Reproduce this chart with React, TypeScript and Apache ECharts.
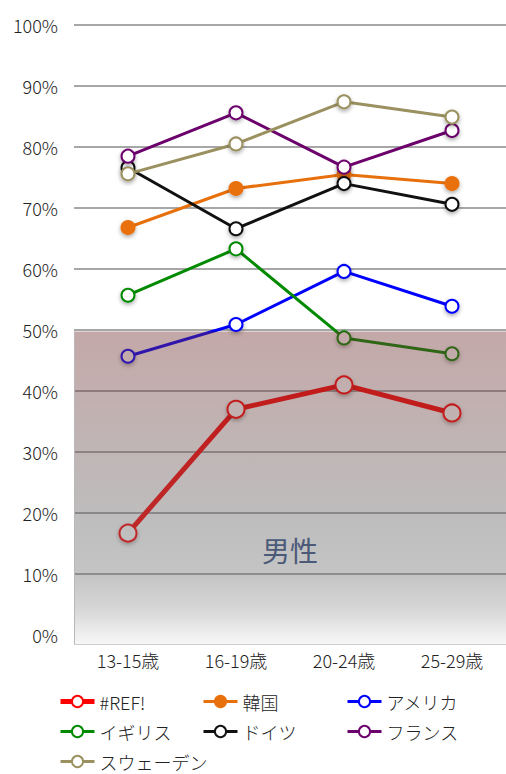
import React, { useEffect, useRef } from 'react';
import * as echarts from 'echarts';

const categories = ['13-15歳', '16-19歳', '20-24歳', '25-29歳'];
const refValues = [16.7, 37.0, 41.0, 36.4];
const koreaValues = [66.8, 73.2, 75.5, 74.0];
const usaValues = [45.7, 50.9, 59.6, 53.9];
const ukValues = [55.7, 63.3, 48.7, 46.1];
const germanyValues = [76.6, 66.6, 74.0, 70.6];
const franceValues = [78.5, 85.6, 76.7, 82.7];
const swedenValues = [75.6, 80.5, 87.4, 84.9];

const seriesNames = ['#REF!', '韓国', 'アメリカ', 'イギリス', 'ドイツ', 'フランス', 'スウェーデン'];
const seriesColors = ['#ff0000', '#e8700c', '#0000ff', '#008a00', '#111111', '#6c006c', '#9a9060'];
const shadeLimit = 50;
const shadeLabel = '男性';
const shadeLabelValue = 14;

const FONT = '"Noto Sans CJK JP", "Noto Sans", sans-serif';

export default function App() {
  const ref = useRef<HTMLDivElement>(null);
  useEffect(() => {
    if (!ref.current) return;
    const chart = echarts.init(ref.current, null, { renderer: 'svg' });
    const values = [refValues, koreaValues, usaValues, ukValues, germanyValues, franceValues, swedenValues];
    const gridLeft = 74;
    const gridWidth = 432;
    const series = values.map((data, i) => {
      const isRef = i === 0;
      const filled = i === 1;
      return {
        name: seriesNames[i],
        type: 'line',
        data,
        symbol: 'circle',
        symbolSize: isRef ? 17 : 13,
        lineStyle: { color: seriesColors[i], width: isRef ? 5 : 3 },
        itemStyle: {
          color: filled ? seriesColors[i] : '#ffffff',
          borderColor: seriesColors[i],
          borderWidth: 2,
          shadowBlur: 4,
          shadowColor: 'rgba(0,0,0,0.35)',
          shadowOffsetY: 2,
        },
        emphasis: { disabled: true },
        z: 2 + i * 0.01,
      };
    });
    const legendBase = {
      orient: 'vertical',
      top: 692,
      padding: 0,
      itemWidth: 34,
      itemHeight: 14,
      itemGap: 11,
      textStyle: { fontSize: 18, color: '#222', lineHeight: 19, fontFamily: FONT, fontWeight: 300 },
      itemStyle: { shadowBlur: 0, shadowOffsetY: 0 },
      lineStyle: { width: 'inherit' },
    };
    chart.setOption({
      animation: false,
      textStyle: { fontFamily: FONT },
      grid: { left: gridLeft, width: gridWidth, top: 25, height: 610 },
      xAxis: {
        type: 'category',
        data: categories,
        boundaryGap: true,
        axisLine: { show: false },
        axisTick: { show: false },
        axisLabel: { fontSize: 18, color: '#222', margin: 16, fontFamily: FONT, fontWeight: 300 },
        splitLine: { show: false },
      },
      yAxis: {
        type: 'value',
        min: 0,
        max: 100,
        interval: 10,
        axisLine: { show: false },
        axisTick: { show: false },
        axisLabel: { formatter: '{value}%', fontSize: 18, color: '#222', margin: 16, fontFamily: FONT, fontWeight: 300 },
        splitLine: {
          lineStyle: {
            color: ['rgba(255,255,255,0.6)', '#8a8a8a', '#8a8a8a', '#8a8a8a', '#8a8a8a', '#8a8a8a', '#8a8a8a', '#8a8a8a', '#8a8a8a', '#8a8a8a', '#8a8a8a'],
            width: 1.5,
          },
        },
      },
      legend: [
        { ...legendBase, left: 58, data: [seriesNames[0], seriesNames[3], seriesNames[6]] },
        { ...legendBase, left: 202, data: [seriesNames[1], seriesNames[4]] },
        { ...legendBase, left: 346, data: [seriesNames[2], seriesNames[5]] },
      ],
      series,
    });
    const yTop = (chart.convertToPixel({ yAxisIndex: 0 }, shadeLimit) as number) + 1.5;
    const y0 = chart.convertToPixel({ yAxisIndex: 0 }, 0) as number;
    const yBottom = y0 + 9;
    const yLabel = chart.convertToPixel({ yAxisIndex: 0 }, shadeLabelValue) as number;
    chart.setOption({
      graphic: [
        {
          type: 'rect',
          z: 10,
          silent: true,
          shape: { x: gridLeft, y: yTop, width: gridWidth, height: yBottom - yTop },
          style: {
            fill: new echarts.graphic.LinearGradient(0, 0, 0, 1, [
              { offset: 0, color: 'rgba(114,48,48,0.42)' },
              { offset: 0.58, color: 'rgba(100,96,96,0.42)' },
              { offset: 0.78, color: 'rgba(100,100,100,0.38)' },
              { offset: 0.89, color: 'rgba(100,100,100,0.26)' },
              { offset: 1, color: 'rgba(100,100,100,0.05)' },
            ]),
          },
        },
        {
          type: 'line',
          z: 11,
          silent: true,
          shape: { x1: gridLeft + 0.5, y1: yTop, x2: gridLeft + 0.5, y2: yBottom },
          style: { stroke: '#b8b8b8', lineWidth: 1 },
        },
        {
          type: 'line',
          z: 11,
          silent: true,
          shape: { x1: gridLeft, y1: yBottom + 0.5, x2: gridLeft + gridWidth, y2: yBottom + 0.5 },
          style: { stroke: '#cccccc', lineWidth: 1 },
        },
        {
          type: 'text',
          z: 12,
          silent: true,
          x: gridLeft + gridWidth / 2,
          y: yLabel,
          style: {
            text: shadeLabel,
            fontSize: 28,
            fill: '#4a5a78',
            align: 'center',
            verticalAlign: 'middle',
            fontFamily: FONT,
          },
        },
      ],
    });
    return () => chart.dispose();
  }, []);
  return (
    <div
      ref={ref}
      style={{ position: 'fixed', left: 0, top: 0, width: 506, height: 774, background: '#fff' }}
    />
  );
}
